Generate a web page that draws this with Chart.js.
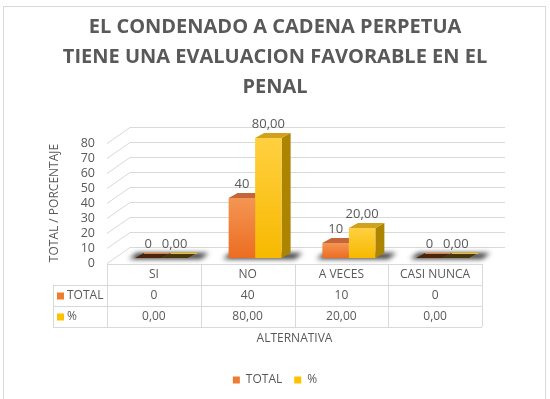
<!DOCTYPE html>
<html>
<head>
<meta charset="utf-8">
<script src="https://cdn.jsdelivr.net/npm/chart.js@4.4.0/dist/chart.umd.min.js"></script>
<style>
  html, body { margin: 0; padding: 0; background: #fff; }
</style>
</head>
<body>
<canvas id="chart" width="550" height="399"></canvas>
<script>
// data
const categories = ['SI', 'NO', 'A VECES', 'CASI NUNCA'];
const totalValues = [0, 40, 10, 0];
const pctValues = [0, 80, 20, 0];
const seriesNames = ['TOTAL', '%'];
const titleLines = ['EL CONDENADO A CADENA PERPETUA', 'TIENE UNA EVALUACION FAVORABLE EN EL', 'PENAL'];
const yTitle = 'TOTAL / PORCENTAJE';
const xTitle = 'ALTERNATIVA';

const FONT = "'Open Sans', sans-serif";
const GREY = '#595959';
const LINE = '#d9d9d9';

// 3d look
const wall = { x: 23, y: -16 };   // depth of the side / back wall
const shift = { x: 7.5, y: -5 };  // bars sit a little back from the front edge
const depth = { x: 9, y: -5 };    // depth of one bar
const looks = [
  { front: ['#f49553', '#ec6d22'], side: '#b4541c', top: '#c4653a', zero: '#4a250c', flat: '#ed7d31' },
  { front: ['#ffd040', '#f7b900'], side: '#ad8400', top: '#d1a11c', zero: '#47370b', flat: '#ffc000' }
];

function fmt(v, d) { return d ? v.toFixed(2).replace('.', ',') : String(v); }

function poly(ctx, pts) {
  ctx.beginPath();
  ctx.moveTo(pts[0][0], pts[0][1]);
  for (let i = 1; i < pts.length; i++) ctx.lineTo(pts[i][0], pts[i][1]);
  ctx.closePath();
  ctx.fill();
}

function hline(ctx, x1, x2, y) {
  ctx.beginPath(); ctx.moveTo(x1, Math.round(y) + 0.5); ctx.lineTo(x2, Math.round(y) + 0.5); ctx.stroke();
}
function vline(ctx, x, y1, y2) {
  ctx.beginPath(); ctx.moveTo(Math.round(x) + 0.5, y1); ctx.lineTo(Math.round(x) + 0.5, y2); ctx.stroke();
}

const threeD = {
  id: 'threeD',
  beforeDraw(chart) {
    const ctx = chart.ctx;
    ctx.save();
    ctx.fillStyle = '#fff';
    ctx.fillRect(0, 0, chart.width, chart.height);
    ctx.strokeStyle = LINE;
    ctx.lineWidth = 1;
    ctx.strokeRect(3.5, 6.5, 542, 400);
    ctx.restore();
  },
  beforeDatasetsDraw(chart) {
    const ctx = chart.ctx;
    const a = chart.chartArea;
    const ys = chart.scales.y;
    ctx.save();
    // walls
    ctx.strokeStyle = LINE;
    ctx.lineWidth = 1;
    ys.ticks.forEach(t => {
      const y = ys.getPixelForValue(t.value);
      ctx.beginPath();
      ctx.moveTo(a.left, y + 0.5);
      ctx.lineTo(a.left + wall.x, y + wall.y + 0.5);
      ctx.lineTo(a.right + wall.x, y + wall.y + 0.5);
      ctx.stroke();
    });

    const m0 = chart.getDatasetMeta(0).data;
    const m1 = chart.getDatasetMeta(1).data;
    // shadows
    categories.forEach((c, i) => {
      const l = m0[i].x - m0[i].width / 2 + shift.x;
      const r = m1[i].x + m1[i].width / 2 + shift.x;
      const b = m0[i].base + shift.y;
      ctx.save();
      ctx.filter = 'blur(2.5px)';
      ctx.fillStyle = 'rgba(20,20,20,0.85)';
      poly(ctx, [[l - 6, b + 1], [r + depth.x + 4, b + 1], [r + depth.x + 12, b + depth.y], [l + 2, b + depth.y]]);
      ctx.restore();
    });
    // boxes
    [m0, m1].forEach((meta, d) => {
      const lk = looks[d];
      meta.forEach(bar => {
        const l = bar.x - bar.width / 2 + shift.x;
        const r = bar.x + bar.width / 2 + shift.x;
        const t = bar.y + shift.y;
        const b = bar.base + shift.y;
        if (b - t < 0.5) {
          ctx.fillStyle = lk.zero;
          poly(ctx, [[l, b], [r, b], [r + depth.x, b + depth.y], [l + depth.x, b + depth.y]]);
          ctx.fillStyle = lk.flat;
          ctx.fillRect(l + depth.x, b + depth.y, r - l, 1);
        } else {
          ctx.fillStyle = lk.side;
          poly(ctx, [[r, t], [r + depth.x, t + depth.y], [r + depth.x, b + depth.y], [r, b]]);
          ctx.fillStyle = lk.top;
          poly(ctx, [[l, t], [r, t], [r + depth.x, t + depth.y], [l + depth.x, t + depth.y]]);
          const g = ctx.createLinearGradient(0, t, 0, b);
          g.addColorStop(0, lk.front[0]);
          g.addColorStop(1, lk.front[1]);
          ctx.fillStyle = g;
          ctx.fillRect(l, t, r - l, b - t);
        }
      });
    });
    // value labels
    ctx.fillStyle = GREY;
    ctx.font = '13px ' + FONT;
    ctx.textAlign = 'center';
    ctx.textBaseline = 'middle';
    [m0, m1].forEach((meta, d) => {
      const vals = d ? pctValues : totalValues;
      meta.forEach((bar, i) => {
        ctx.fillText(fmt(vals[i], d), bar.x + shift.x, bar.y + shift.y - 14);
      });
    });
    ctx.restore();
    return false;
  },
  afterDraw(chart) {
    const ctx = chart.ctx;
    const a = chart.chartArea;
    const xs = chart.scales.x;
    const colW = (a.right - a.left) / categories.length;
    const rows = [a.bottom + 1, a.bottom + 22, a.bottom + 43, a.bottom + 64];
    const keyL = a.left - 54;
    ctx.save();
    ctx.strokeStyle = LINE;
    ctx.lineWidth = 1;
    hline(ctx, a.left, a.right, rows[0]);
    for (let k = 1; k < rows.length; k++) hline(ctx, keyL, a.right, rows[k]);
    vline(ctx, keyL, rows[1], rows[3]);
    for (let i = 0; i <= categories.length; i++) vline(ctx, a.left + i * colW, rows[0], rows[3]);

    ctx.fillStyle = GREY;
    ctx.font = '12px ' + FONT;
    ctx.textAlign = 'center';
    ctx.textBaseline = 'middle';
    categories.forEach((c, i) => {
      const cx = xs.getPixelForValue(i);
      ctx.fillText(c, cx, (rows[0] + rows[1]) / 2);
      ctx.fillText(fmt(totalValues[i], 0), cx, (rows[1] + rows[2]) / 2);
      ctx.fillText(fmt(pctValues[i], 1), cx, (rows[2] + rows[3]) / 2);
    });
    ctx.textAlign = 'left';
    seriesNames.forEach((s, k) => {
      const cy = (rows[k + 1] + rows[k + 2]) / 2;
      ctx.fillStyle = looks[k].flat;
      ctx.fillRect(keyL + 4, cy - 3, 7, 7);
      ctx.fillStyle = GREY;
      ctx.fillText(s, keyL + 14, cy);
    });
    ctx.textAlign = 'center';
    ctx.fillText(xTitle, (a.left + a.right) / 2, rows[3] + 12);

    ctx.translate(55, (a.top + a.bottom) / 2);
    ctx.rotate(-Math.PI / 2);
    ctx.fillText(yTitle, 0, 0);
    ctx.restore();
  }
};

new Chart(document.getElementById('chart'), {
  type: 'bar',
  data: {
    labels: categories,
    datasets: [
      { label: seriesNames[0], data: totalValues, backgroundColor: looks[0].flat },
      { label: seriesNames[1], data: pctValues, backgroundColor: looks[1].flat }
    ]
  },
  options: {
    responsive: false,
    devicePixelRatio: 1,
    animation: false,
    categoryPercentage: 0.565,
    barPercentage: 1,
    layout: { padding: { left: 0, right: 0, top: 0, bottom: 3 } },
    plugins: {
      title: {
        display: true,
        text: titleLines,
        color: GREY,
        font: { family: FONT, size: 20, weight: 'bold', lineHeight: 1.5 },
        padding: { top: 12, bottom: 41 }
      },
      legend: {
        position: 'bottom',
        labels: { boxWidth: 7, boxHeight: 7, color: GREY, font: { family: FONT, size: 12 }, padding: 12 }
      },
      tooltip: { enabled: false }
    },
    scales: {
      x: {
        grid: { display: false },
        border: { display: false },
        ticks: { display: false },
        afterFit(s) { s.height = 99; }
      },
      y: {
        min: 0, max: 80,
        grid: { display: false, drawTicks: false },
        border: { display: false },
        ticks: { stepSize: 10, autoSkip: false, color: GREY, font: { family: FONT, size: 12.5 }, padding: 12 },
        afterFit(s) { s.width = 107; }
      },
      // empty space on the right, so title and legend stay centred on the page
      side: {
        position: 'right',
        min: 0, max: 80,
        grid: { display: false, drawTicks: false },
        border: { display: false },
        ticks: { display: false },
        afterFit(s) { s.width = 68; }
      }
    }
  },
  plugins: [threeD]
});
</script>
</body>
</html>
